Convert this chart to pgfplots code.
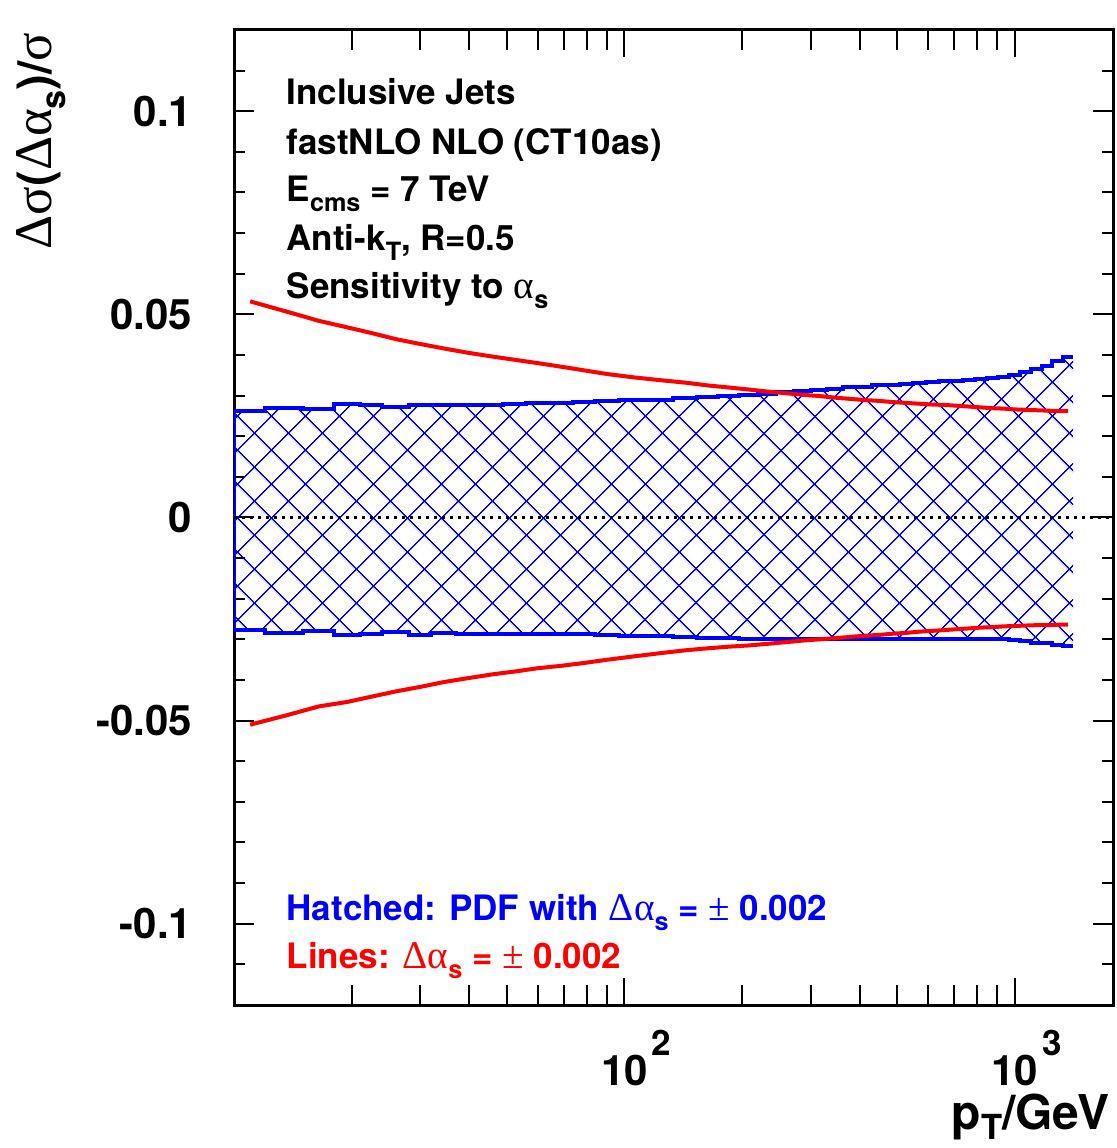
\documentclass[border=0pt]{standalone}
\usepackage{fontspec}
\setmainfont{TeX Gyre Heros}
\newfontfamily\grk{Liberation Serif}[Scale=1.12]
\usepackage{graphicx}
\usepackage{pgfplots}
\pgfplotsset{compat=1.18}
\usepackage{pgfplotstable}
\usepgfplotslibrary{fillbetween}
\usetikzlibrary{patterns.meta}

\newcommand{\sub}[1]{\raisebox{-0.28em}{\scalebox{0.72}{#1}}}
\newcommand{\gr}[1]{{\grk\mdseries #1}}
\newcommand{\tenpow}[1]{10\makebox[0pt][l]{\hspace{1.2pt}\raisebox{9pt}{\fontsize{10.5}{10.5}\selectfont #1}}}

\pgfplotstableread{
x up lo
10 0.0262 -0.0276
12 0.0270 -0.0284
15 0.0268 -0.0280
18 0.0280 -0.0290
21 0.0278 -0.0287
24 0.0272 -0.0282
28 0.0277 -0.0290
32 0.0277 -0.0285
37 0.0277 -0.0286
43 0.0277 -0.0286
49 0.0279 -0.0287
56 0.0281 -0.0287
64 0.0283 -0.0288
74 0.0284 -0.0288
84 0.0286 -0.0289
97 0.0288 -0.0291
114 0.0290 -0.0292
133 0.0294 -0.0295
153 0.0297 -0.0296
174 0.0300 -0.0297
196 0.0302 -0.0298
220 0.0305 -0.0299
245 0.0308 -0.0299
272 0.0311 -0.0300
300 0.0314 -0.0300
330 0.0317 -0.0300
362 0.0320 -0.0300
395 0.0322 -0.0300
430 0.0325 -0.0300
468 0.0327 -0.0300
507 0.0329 -0.0300
548 0.0331 -0.0300
592 0.0333 -0.0300
638 0.0335 -0.0300
686 0.0337 -0.0300
737 0.0339 -0.0300
790 0.0341 -0.0300
846 0.0344 -0.0300
905 0.0347 -0.0300
967 0.0351 -0.0301
1032 0.0357 -0.0305
1101 0.0366 -0.0308
1172 0.0374 -0.0309
1248 0.0386 -0.0313
1327 0.0394 -0.0316
1410 0.0394 -0.0316
}\bandtab

\pgfplotstableread{
x up lo
11 0.0532 -0.0510
13.5 0.0508 -0.0488
16.5 0.0484 -0.0465
19.5 0.0468 -0.0454
22.5 0.0454 -0.0441
26 0.0439 -0.0428
30 0.0427 -0.0417
34.5 0.0416 -0.0405
40 0.0405 -0.0395
46 0.0396 -0.0386
52.5 0.0388 -0.0379
60 0.0380 -0.0371
69 0.0371 -0.0365
79 0.0362 -0.0358
90.5 0.0353 -0.0350
105.5 0.0345 -0.0342
123.5 0.0338 -0.0334
143 0.0332 -0.0327
163.5 0.0325 -0.0322
185 0.0320 -0.0318
208 0.0315 -0.0315
232.5 0.0310 -0.0311
258.5 0.0306 -0.0307
286 0.0302 -0.0303
315 0.0299 -0.0300
346 0.0295 -0.0297
378.5 0.0292 -0.0294
412.5 0.0289 -0.0291
449 0.0287 -0.0289
487.5 0.0284 -0.0286
527.5 0.0282 -0.0284
570 0.0280 -0.0281
615 0.0278 -0.0279
662 0.0277 -0.0277
711.5 0.0275 -0.0275
763.5 0.0273 -0.0273
818 0.0271 -0.0271
875.5 0.0269 -0.0270
936 0.0268 -0.0268
999.5 0.0266 -0.0267
1066.5 0.0265 -0.0266
1136.5 0.0264 -0.0265
1210 0.0263 -0.0265
1287.5 0.0262 -0.0264
1368.5 0.0262 -0.0264
}\redtab

\begin{document}
\begin{tikzpicture}
\begin{axis}[
  scale only axis, width=263.7pt, height=292.5pt,
  at={(0,0)}, anchor=south west,
  xmode=log, xmin=10, xmax=1784, ymin=-0.12, ymax=0.12,
  axis line style={line width=0.9pt},
  tick align=inside,
  xtick pos=both, ytick pos=both,
  xticklabel pos=lower, yticklabel pos=left,
  xtick={100,1000}, xticklabels={\tenpow{2},\tenpow{3}},
  minor xtick={20,30,40,50,60,70,80,90,200,300,400,500,600,700,800,900},
  ytick={-0.1,-0.05,0,0.05,0.1}, yticklabels={-0.1,-0.05,0,0.05,0.1},
  minor ytick={-0.11,-0.09,-0.08,-0.07,-0.06,-0.04,-0.03,-0.02,-0.01,0.01,0.02,0.03,0.04,0.06,0.07,0.08,0.09,0.11},
  xtick style={/pgfplots/major tick length=8pt,/pgfplots/minor tick length=6pt},
  ytick style={/pgfplots/major tick length=6pt,/pgfplots/minor tick length=3.3pt},
  every tick/.style={black, line width=0.6pt},
  xticklabel style={font=\bfseries\fontsize{12.6}{12.6}\selectfont, anchor=base, inner sep=0pt, yshift=-24pt},
  yticklabel style={font=\bfseries\fontsize{12.6}{12.6}\selectfont, anchor=east, inner sep=0pt, xshift=-12.3pt},
]
\addplot[name path=bu, draw=none, const plot, forget plot] table[x=x, y=up] {\bandtab};
\addplot[name path=bl, draw=none, const plot, forget plot] table[x=x, y=lo] {\bandtab};
\addplot[pattern={Hatch[angle=45,distance=7.4pt,line width=0.45pt]}, pattern color=blue, draw=none] fill between[of=bu and bl];
\addplot[blue, line width=1.2pt, const plot] table[x=x, y=up] {\bandtab};
\addplot[blue, line width=1.2pt, const plot] table[x=x, y=lo] {\bandtab};
\addplot[blue, line width=1.2pt] coordinates {(10,0.0262) (10,-0.0276)};
\addplot[red, line width=1.2pt] table[x=x, y=up] {\redtab};
\addplot[red, line width=1.2pt] table[x=x, y=lo] {\redtab};
\addplot[black, line width=0.9pt, dash pattern=on 0.9pt off 1.5pt] coordinates {(10,0) (1784,0)};

\node[anchor=base west, inner sep=0pt, font=\bfseries\fontsize{10.5}{10.5}\selectfont, xshift=15.6pt, yshift=-22.5pt] at (rel axis cs:0,1) {Inclusive Jets};
\node[anchor=base west, inner sep=0pt, font=\bfseries\fontsize{10.5}{10.5}\selectfont, xshift=15.6pt, yshift=-37.5pt] at (rel axis cs:0,1) {fastNLO NLO (CT10as)};
\node[anchor=base west, inner sep=0pt, font=\bfseries\fontsize{10.5}{10.5}\selectfont, xshift=15.6pt, yshift=-51.6pt] at (rel axis cs:0,1) {E\sub{cms} = 7 TeV};
\node[anchor=base west, inner sep=0pt, font=\bfseries\fontsize{10.5}{10.5}\selectfont, xshift=15.6pt, yshift=-66.3pt] at (rel axis cs:0,1) {Anti-k\sub{T}, R=0.5};
\node[anchor=base west, inner sep=0pt, font=\bfseries\fontsize{10.5}{10.5}\selectfont, xshift=15.6pt, yshift=-80.7pt] at (rel axis cs:0,1) {Sensitivity to \gr{α}\sub{s}};
\node[anchor=base west, inner sep=0pt, font=\bfseries\fontsize{10.5}{10.5}\selectfont, text=blue, xshift=15.6pt, yshift=25.2pt] at (rel axis cs:0,0) {Hatched: PDF with \gr{Δα}\sub{s} = \gr{±} 0.002};
\node[anchor=base west, inner sep=0pt, font=\bfseries\fontsize{10.5}{10.5}\selectfont, text=red, xshift=15.6pt, yshift=10.8pt] at (rel axis cs:0,0) {Lines: \gr{Δα}\sub{s} = \gr{±} 0.002};
\end{axis}
\node[rotate=90, anchor=base east, inner sep=0pt, font=\bfseries\fontsize{14.2}{14.2}\selectfont] at (-54.6pt,291.9pt) {\gr{Δσ}(\gr{Δα}\sub{s})/\gr{σ}};
\node[anchor=base east, inner sep=0pt, font=\bfseries\fontsize{14.4}{14.4}\selectfont] at (262.8pt,-37.2pt) {p\raisebox{0.06em}{\sub{T}}/GeV};
\pgfresetboundingbox
\useasboundingbox (-70.2pt,-42.9pt) rectangle (264.6pt,301.5pt);
\end{tikzpicture}
\end{document}
